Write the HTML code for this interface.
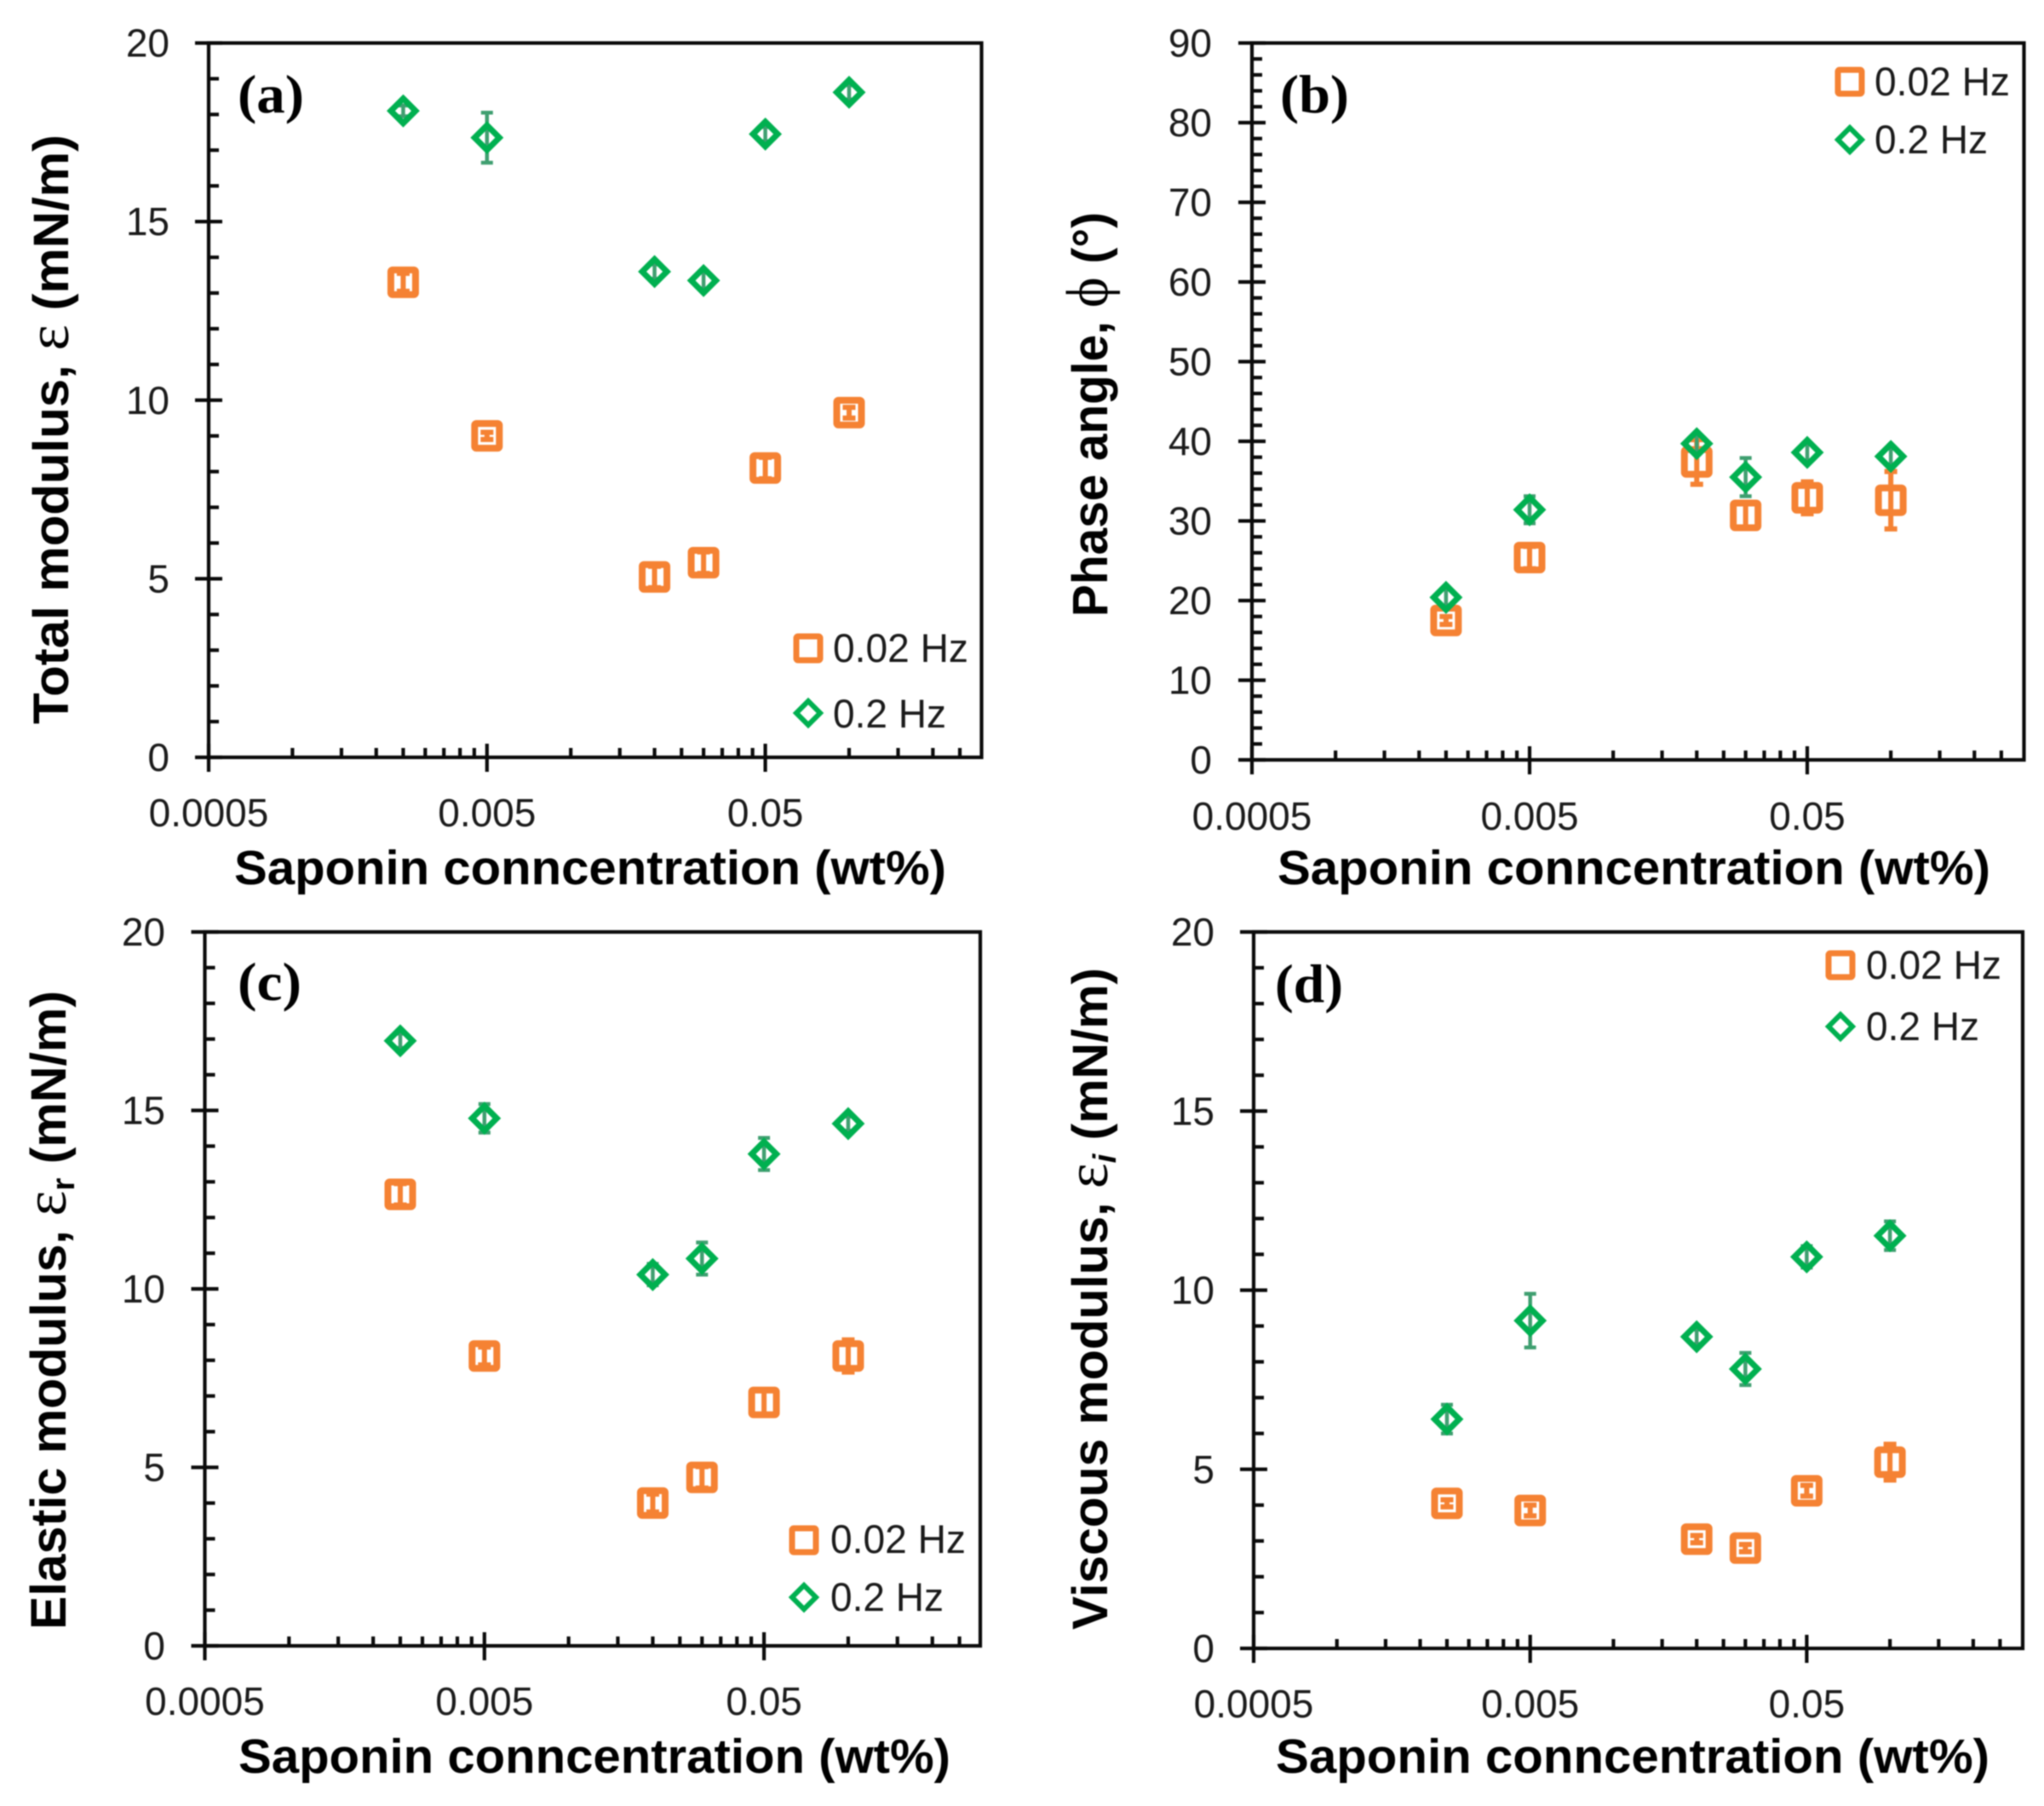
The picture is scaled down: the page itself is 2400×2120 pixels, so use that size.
<!DOCTYPE html>
<html lang="en">
<head>
<meta charset="utf-8">
<title>Saponin surface rheology charts</title>
<style>
html,body{margin:0;padding:0;background:#fff;width:2400px;height:2120px;overflow:hidden}
svg{display:block;filter:blur(0.8px)}
text{fill:#1a1a1a}
.tick{font:46px "Liberation Sans",sans-serif}
.legend{font:47px "Liberation Sans",sans-serif}
.axis-title{font:bold 58px "Liberation Sans",sans-serif;fill:#000}
.axis-title-x{font:bold 57px "Liberation Sans",sans-serif;fill:#000}
.panel-label{font:bold 64px "Liberation Serif",serif;fill:#000}
.greek{font-family:"Liberation Serif",serif;font-weight:normal;font-size:70px}
</style>
</head>
<body>
<svg id="figure" xmlns="http://www.w3.org/2000/svg" width="2400" height="2120" viewBox="0 0 2400 2120">
  <rect width="2400" height="2120" fill="#fff"/>
  <g id="panel-a"></g>
  <g id="panel-b"></g>
  <g id="panel-c"></g>
  <g id="panel-d"></g>

  <!-- axis titles -->
  <text class="axis-title-x" x="275" y="1038" textLength="836" lengthAdjust="spacingAndGlyphs">Saponin conncentration (wt%)</text>
  <text class="axis-title-x" x="1500" y="1038" textLength="837" lengthAdjust="spacingAndGlyphs">Saponin conncentration (wt%)</text>
  <text class="axis-title-x" x="280" y="2081" textLength="836" lengthAdjust="spacingAndGlyphs">Saponin conncentration (wt%)</text>
  <text class="axis-title-x" x="1498" y="2081" textLength="838" lengthAdjust="spacingAndGlyphs">Saponin conncentration (wt%)</text>

  <text class="axis-title" transform="translate(80,850) rotate(-90)" textLength="692" lengthAdjust="spacingAndGlyphs">Total modulus, <tspan class="greek">ε</tspan> (mN/m)</text>
  <text class="axis-title" transform="translate(1300,724) rotate(-90)" textLength="475" lengthAdjust="spacingAndGlyphs">Phase angle, <tspan class="greek">ϕ</tspan> (°)</text>
  <text class="axis-title" transform="translate(77,1913) rotate(-90)" textLength="750" lengthAdjust="spacingAndGlyphs">Elastic modulus, <tspan class="greek">ε</tspan><tspan font-size="38" dy="10">r</tspan><tspan dy="-10"> (mN/m)</tspan></text>
  <text class="axis-title" transform="translate(1300,1913) rotate(-90)" textLength="777" lengthAdjust="spacingAndGlyphs">Viscous modulus, <tspan class="greek">ε</tspan><tspan font-size="38" dy="10" font-style="italic">i</tspan><tspan dy="-10"> (mN/m)</tspan></text>

  <!-- panel labels -->
  <text class="panel-label" x="279" y="132" textLength="78" lengthAdjust="spacingAndGlyphs">(a)</text>
  <text class="panel-label" x="1503" y="132" textLength="81" lengthAdjust="spacingAndGlyphs">(b)</text>
  <text class="panel-label" x="279" y="1174" textLength="75" lengthAdjust="spacingAndGlyphs">(c)</text>
  <text class="panel-label" x="1497" y="1176" textLength="80" lengthAdjust="spacingAndGlyphs">(d)</text>

  <!-- legends -->
  <g>
    <rect x="935" y="747" width="28" height="28" rx="2" fill="none" stroke="#F58233" stroke-width="7"/>
    <text class="legend" x="978" y="777" textLength="159" lengthAdjust="spacingAndGlyphs">0.02 Hz</text>
    <polygon points="949,823 963,837 949,851 935,837" fill="none" stroke="#00B050" stroke-width="6"/>
    <text class="legend" x="978" y="854" textLength="133" lengthAdjust="spacingAndGlyphs">0.2 Hz</text>
  </g>
  <g>
    <rect x="2158" y="82" width="28" height="28" rx="2" fill="none" stroke="#F58233" stroke-width="7"/>
    <text class="legend" x="2201" y="112" textLength="159" lengthAdjust="spacingAndGlyphs">0.02 Hz</text>
    <polygon points="2172,150 2186,164 2172,178 2158,164" fill="none" stroke="#00B050" stroke-width="6"/>
    <text class="legend" x="2201" y="180" textLength="133" lengthAdjust="spacingAndGlyphs">0.2 Hz</text>
  </g>
  <g>
    <rect x="930" y="1794" width="28" height="28" rx="2" fill="none" stroke="#F58233" stroke-width="7"/>
    <text class="legend" x="975" y="1823" textLength="159" lengthAdjust="spacingAndGlyphs">0.02 Hz</text>
    <polygon points="944,1861 958,1875 944,1889 930,1875" fill="none" stroke="#00B050" stroke-width="6"/>
    <text class="legend" x="975" y="1891" textLength="133" lengthAdjust="spacingAndGlyphs">0.2 Hz</text>
  </g>
  <g>
    <rect x="2147" y="1119" width="28" height="28" rx="2" fill="none" stroke="#F58233" stroke-width="7"/>
    <text class="legend" x="2191" y="1149" textLength="159" lengthAdjust="spacingAndGlyphs">0.02 Hz</text>
    <polygon points="2161,1191 2175,1205 2161,1219 2147,1205" fill="none" stroke="#00B050" stroke-width="6"/>
    <text class="legend" x="2191" y="1221" textLength="133" lengthAdjust="spacingAndGlyphs">0.2 Hz</text>
  </g>
</svg>

<script>
// Shared x data (saponin concentration, wt%)
const concentrations = [0.0025, 0.005, 0.02, 0.03, 0.05, 0.1];
const xMajorTicks = [0.0005, 0.005, 0.05];
const xMajorLabels = ["0.0005", "0.005", "0.05"];
const xMinorTicks = [0.001, 0.0015, 0.002, 0.0025, 0.003, 0.0035, 0.004, 0.0045,
                     0.01, 0.015, 0.02, 0.025, 0.03, 0.035, 0.04, 0.045,
                     0.1, 0.15, 0.2, 0.25];

// Panel (a) total modulus
const totalLow = [13.3, 9.0, 5.05, 5.45, 8.1, 9.65];
const totalLowErr = [0.25, 0.1, 0.3, 0.3, 0.3, 0.15];
const totalHigh = [18.1, 17.35, 13.6, 13.35, 17.45, 18.62];
const totalHighErr = [0.15, 0.7, 0.2, 0.25, 0.2, 0.2];

// Panel (b) phase angle
const phaseLow = [17.5, 25.4, 37.4, 30.7, 32.9, 32.6];
const phaseLowErr = [0.5, 1.4, 2.8, 1.5, 2.0, 3.6];
const phaseHigh = [20.4, 31.4, 39.7, 35.5, 38.6, 38.1];
const phaseHighErr = [1.0, 1.7, 1.0, 2.4, 1.0, 1.0];

// Panel (c) elastic modulus
const elasticLow = [12.65, 8.12, 4.0, 4.72, 6.82, 8.12];
const elasticLowErr = [0.3, 0.25, 0.25, 0.3, 0.35, 0.45];
const elasticHigh = [16.95, 14.78, 10.4, 10.85, 13.78, 14.63];
const elasticHighErr = [0.2, 0.4, 0.3, 0.45, 0.45, 0.2];

// Panel (d) viscous modulus
const viscousLow = [4.05, 3.85, 3.05, 2.8, 4.4, 5.2];
const viscousLowErr = [0.1, 0.15, 0.1, 0.1, 0.15, 0.5];
const viscousHigh = [6.4, 9.15, 8.7, 7.8, 10.93, 11.52];
const viscousHighErr = [0.4, 0.75, 0.2, 0.45, 0.3, 0.4];

// y-axis tick definitions
const modulusMajorTicks = [0, 5, 10, 15, 20];
const modulusMinorStep = 1;
const phaseMajorTicks = [0, 10, 20, 30, 40, 50, 60, 70, 80, 90];
const phaseMinorStep = 2;

const NS = "http://www.w3.org/2000/svg";
const ORANGE = "#F58233";
const GREEN = "#00B050";
const GREEN_ERR = "#3F9F70";
const INK = "#0a0a0a";
const AXIS_W = 4.2;

function make(parent, tag, attrs) {
  const node = document.createElementNS(NS, tag);
  for (const k in attrs) node.setAttribute(k, attrs[k]);
  parent.appendChild(node);
  return node;
}
function segment(parent, x1, y1, x2, y2, color, w) {
  return make(parent, "line", {x1, y1, x2, y2, stroke: color, "stroke-width": w});
}

function drawPanel(id, box, yMajor, yMinorStep, low, lowErr, high, highErr) {
  const root = document.getElementById(id);
  const xScale = c => box.left + box.decade * Math.log10(c / xMajorTicks[0]);
  const yMax = yMajor[yMajor.length - 1];
  const yScale = v => box.bottom - (box.bottom - box.top) * v / yMax;

  // frame
  const frame = make(root, "rect", {x: box.left, y: box.top, width: box.right - box.left, height: box.bottom - box.top, fill: "none", stroke: INK, "stroke-width": AXIS_W});
  
  

  // y ticks
  const yAxis = make(root, "g", {});
  
  
  for (let v = yMinorStep; v < yMax; v += yMinorStep) {
    if (yMajor.indexOf(v) >= 0) continue;
    const t = segment(yAxis, box.left, yScale(v), box.left + 12, yScale(v), INK, AXIS_W);
    
    
  }
  yMajor.forEach(v => {
    const t = segment(yAxis, box.left - 16, yScale(v), box.left + 16, yScale(v), INK, AXIS_W);
    
    
    const label = make(yAxis, "text", {class: "tick", x: box.labelRight, y: yScale(v) + 16, "text-anchor": "end"});
    label.textContent = String(v);
    
    
  });

  // x ticks
  const xAxis = make(root, "g", {});
  
  
  xMinorTicks.forEach(c => {
    const t = segment(xAxis, xScale(c), box.bottom, xScale(c), box.bottom - 11, INK, AXIS_W);
    
    
  });
  xMajorTicks.forEach((c, i) => {
    const t = segment(xAxis, xScale(c), box.bottom + 17, xScale(c), box.bottom - 16, INK, AXIS_W);
    
    
    const label = make(xAxis, "text", {class: "tick", x: xScale(c), y: box.labelBase, "text-anchor": "middle"});
    label.textContent = xMajorLabels[i];
    
    
  });

  // series 0.02 Hz
  const lowGroup = make(root, "g", {});
  
  
  concentrations.forEach((c, i) => {
    const x = xScale(c), y = yScale(low[i]);
    const yTop = yScale(low[i] + lowErr[i]), yBot = yScale(low[i] - lowErr[i]);
    const marker = make(lowGroup, "rect", {x: x - 14.5, y: y - 14.5, width: 29, height: 29, rx: 2, fill: "#fff", stroke: ORANGE, "stroke-width": 8});
    
    
    const bar = make(lowGroup, "path", {d: `M${x} ${yTop}V${yBot}M${x - 7.5} ${yTop}H${x + 7.5}M${x - 7.5} ${yBot}H${x + 7.5}`, fill: "none", stroke: ORANGE, "stroke-width": 6});
    
    
  });

  // series 0.2 Hz
  const highGroup = make(root, "g", {});
  
  
  concentrations.forEach((c, i) => {
    const x = xScale(c), y = yScale(high[i]);
    const yTop = yScale(high[i] + highErr[i]), yBot = yScale(high[i] - highErr[i]);
    const bar = make(highGroup, "path", {d: `M${x} ${yTop}V${yBot}M${x - 7} ${yTop}H${x + 7}M${x - 7} ${yBot}H${x + 7}`, fill: "none", stroke: GREEN_ERR, "stroke-width": 4.5});
    
    
    const marker = make(highGroup, "polygon", {points: `${x},${y - 14.5} ${x + 14.5},${y} ${x},${y + 14.5} ${x - 14.5},${y}`, fill: "none", stroke: GREEN, "stroke-width": 7});
    
    
  });
}

drawPanel("panel-a", {left: 245, right: 1152.5, top: 50.5, bottom: 889, decade: 326.8, labelRight: 199, labelBase: 970},
  modulusMajorTicks, modulusMinorStep, totalLow, totalLowErr, totalHigh, totalHighErr);
drawPanel("panel-b", {left: 1470, right: 2376.5, top: 50.5, bottom: 892, decade: 326, labelRight: 1423, labelBase: 974},
  phaseMajorTicks, phaseMinorStep, phaseLow, phaseLowErr, phaseHigh, phaseHighErr);
drawPanel("panel-c", {left: 240.5, right: 1151, top: 1094, bottom: 1932, decade: 328.3, labelRight: 194, labelBase: 2013},
  modulusMajorTicks, modulusMinorStep, elasticLow, elasticLowErr, elasticHigh, elasticHighErr);
drawPanel("panel-d", {left: 1472, right: 2375, top: 1094, bottom: 1935, decade: 324.7, labelRight: 1426, labelBase: 2016},
  modulusMajorTicks, modulusMinorStep, viscousLow, viscousLowErr, viscousHigh, viscousHighErr);
</script>
</body>
</html>
